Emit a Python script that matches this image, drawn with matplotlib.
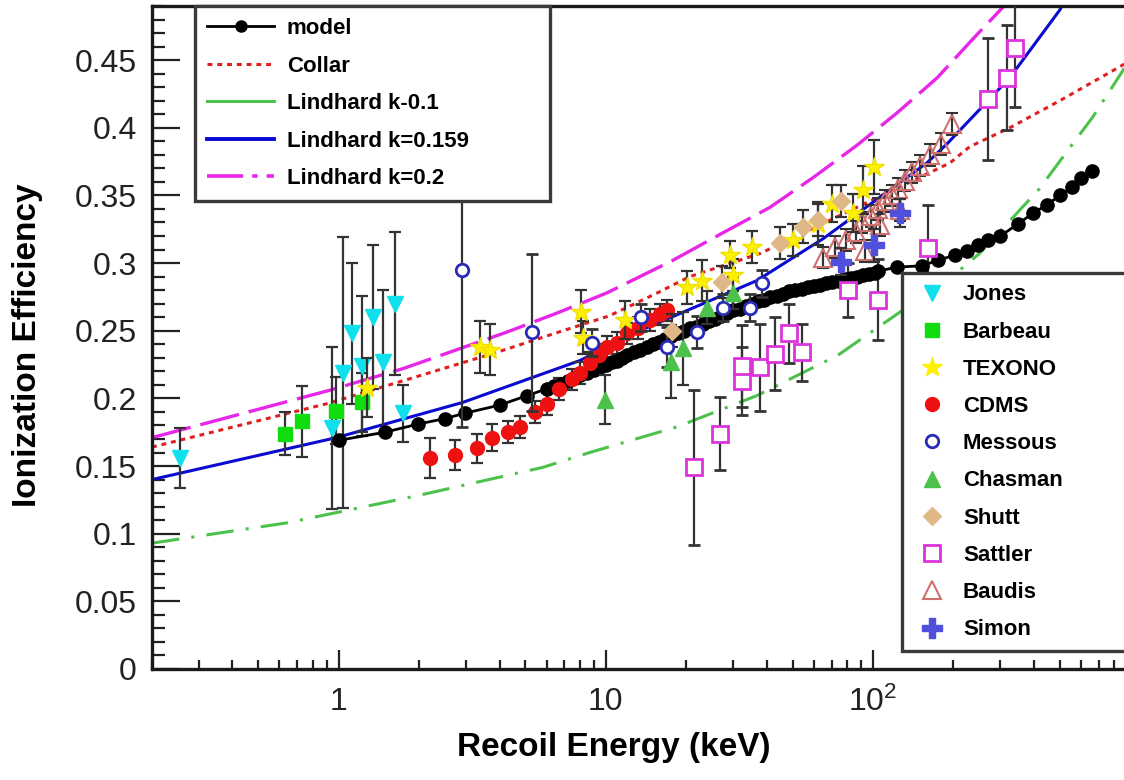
import matplotlib
matplotlib.use("Agg")
import matplotlib.pyplot as plt
from matplotlib.lines import Line2D
from matplotlib.font_manager import FontProperties
from matplotlib.ticker import FixedLocator, FixedFormatter, LogLocator, NullFormatter, MultipleLocator, FormatStrFormatter

plt.rcParams['font.family'] = ['Liberation Sans', 'DejaVu Sans']
plt.rcParams['mathtext.fontset'] = 'custom'
plt.rcParams['mathtext.rm'] = 'Liberation Sans'
plt.rcParams['mathtext.it'] = 'Liberation Sans:italic'
plt.rcParams['mathtext.bf'] = 'Liberation Sans:bold'

# ---------------- curves ----------------
collar_E = [0.2, 0.9, 1.74, 3.9, 6.9, 10.3, 15.6, 20.6, 37.7, 194, 230, 325, 500, 820, 871]
collar_y = [0.164, 0.196, 0.213, 0.234, 0.250, 0.261, 0.278, 0.290, 0.307, 0.374, 0.386, 0.400, 0.420, 0.444, 0.447]

lind01_E = [0.2, 0.64, 1.96, 5.8, 8.7, 18.5, 36.7, 74, 206, 250, 335, 420, 530, 665, 860, 871]
lind01_y = [0.093, 0.108, 0.128, 0.149, 0.160, 0.179, 0.202, 0.232, 0.293, 0.307, 0.334, 0.355, 0.382, 0.408, 0.442, 0.444]

lind0159_E = [0.2, 0.98, 2.91, 8.0, 13.4, 36.7, 65, 159, 189, 325, 500, 560]
lind0159_y = [0.140, 0.171, 0.197, 0.228, 0.250, 0.287, 0.318, 0.374, 0.388, 0.437, 0.487, 0.505]

lind02_E = [0.2, 0.925, 1.74, 2.77, 4.26, 6.55, 10.1, 17.8, 27.2, 41, 59.5, 87, 123, 174, 240, 306, 360]
lind02_y = [0.171, 0.206, 0.222, 0.236, 0.249, 0.263, 0.278, 0.302, 0.322, 0.341, 0.363, 0.387, 0.411, 0.437, 0.467, 0.489, 0.515]

model_E = [1.0, 1.49, 1.98, 2.49, 2.96, 4.0, 5.06, 6.0, 6.4, 6.8, 7.2, 7.6, 8.0, 8.5, 9.0, 9.5, 10, 10.5, 11,
           11.5, 12, 12.7, 13.4, 14.2, 15, 15.8, 16.7, 17.6, 18.6, 19.6, 20.7, 21.8, 23, 24.3, 25.6, 27,
           28.5, 30, 31.7, 33.4, 35.2, 37.1, 39.2, 41.3, 43.6, 46, 48.5, 51.2, 54, 57, 60, 63.4, 66.8,
           70.5, 74.4, 78.5, 82.8, 87.3, 92, 97, 102, 104,
           123, 152, 175, 203, 225, 248, 270, 300, 349, 398, 448, 500, 556, 603, 661]
model_y = [0.169, 0.175, 0.181, 0.185, 0.189, 0.195, 0.202, 0.207, 0.209, 0.211, 0.213, 0.215, 0.217, 0.219,
           0.221, 0.223, 0.225, 0.227, 0.228, 0.230, 0.232, 0.234, 0.236, 0.238, 0.240, 0.242, 0.244, 0.246,
           0.248, 0.250, 0.252, 0.253, 0.255, 0.257, 0.259, 0.261, 0.263, 0.265, 0.266, 0.268, 0.270, 0.272,
           0.273, 0.275, 0.276, 0.277, 0.279, 0.280, 0.281, 0.282, 0.283, 0.284, 0.285, 0.286, 0.287, 0.288,
           0.289, 0.290, 0.291, 0.292, 0.293, 0.294,
           0.297, 0.298, 0.302, 0.306, 0.309, 0.313, 0.317, 0.320, 0.329, 0.337, 0.343, 0.350, 0.356, 0.363, 0.368]

# ---------------- data sets ----------------
jones_E = [0.254, 0.94, 1.035, 1.12, 1.22, 1.34, 1.46, 1.62, 1.74]
jones_y = [0.156, 0.178, 0.219, 0.248, 0.224, 0.260, 0.227, 0.270, 0.189]
jones_err = [0.022, 0.060, 0.100, 0.052, 0.052, 0.053, 0.053, 0.053, 0.021]

barbeau_E = [0.63, 0.73, 0.98, 1.22]
barbeau_y = [0.174, 0.183, 0.191, 0.197]
barbeau_err = [0.016, 0.026, 0.025, 0.022]

texono_E = [1.28, 3.37, 3.67, 8.1, 8.2, 11.8, 20.1, 22.9, 29.1, 29.9, 35.2, 50.2, 62.5, 70.3, 84.3, 91.7, 101]
texono_y = [0.208, 0.238, 0.236, 0.264, 0.245, 0.258, 0.282, 0.287, 0.306, 0.291, 0.312, 0.317, 0.329, 0.344, 0.337, 0.354, 0.371]
texono_err = [0.022, 0.019, 0.019, 0.016, 0.012, 0.014, 0.012, 0.015, 0.010, 0.012, 0.012, 0.012, 0.016, 0.014, 0.014, 0.018, 0.020]

cdms_E = [2.19, 2.72, 3.28, 3.74, 4.29, 4.76, 5.42, 6.0, 6.7, 7.5, 8.0, 8.7, 9.4, 10.1, 11.0, 12.0, 13.2, 14.6, 16.0, 17.0]
cdms_y = [0.156, 0.158, 0.163, 0.171, 0.175, 0.179, 0.190, 0.196, 0.207, 0.214, 0.219, 0.226, 0.232, 0.238, 0.241, 0.248, 0.252, 0.258, 0.262, 0.265]
cdms_err = [0.015, 0.011, 0.011, 0.010, 0.008, 0.008, 0.008, 0.008, 0.008, 0.008, 0.008, 0.008, 0.008, 0.008, 0.008, 0.008, 0.008, 0.008, 0.008, 0.008]

messous_E = [2.9, 5.3, 8.9, 13.5, 17, 21.9, 27.4, 34.6, 38.5]
messous_y = [0.295, 0.249, 0.241, 0.260, 0.238, 0.249, 0.267, 0.267, 0.285]
messous_err = [0.116, 0.058, 0.010, 0.010, 0.015, 0.012, 0.010, 0.010, 0.010]

chasman_E = [9.9, 17.6, 19.4, 23.9, 29.9]
chasman_y = [0.199, 0.227, 0.237, 0.267, 0.278]
chasman_err = [0.018, 0.027, 0.027, 0.012, 0.012]

shutt_E = [17.7, 27.2, 44.8, 54.6, 62, 76]
shutt_y = [0.250, 0.286, 0.315, 0.327, 0.332, 0.346]
shutt_err = [0.012, 0.012, 0.012, 0.012, 0.012, 0.012]

sattler_E = [21.4, 26.7, 32.4, 32.4, 37.7, 42.9, 48.3, 54.4, 80.7, 104, 161, 270, 318, 340]
sattler_y = [0.149, 0.174, 0.213, 0.224, 0.223, 0.233, 0.248, 0.234, 0.280, 0.273, 0.311, 0.421, 0.437, 0.459]
sattler_err = [0.057, 0.027, 0.025, 0.030, 0.032, 0.027, 0.022, 0.021, 0.020, 0.030, 0.032, 0.045, 0.039, 0.044]

baudis_E = [65, 72, 79, 86, 91, 93, 98, 104, 106, 111, 118, 124, 126, 132, 140, 150, 164, 179, 197]
baudis_y = [0.304, 0.312, 0.317, 0.323, 0.330, 0.309, 0.335, 0.340, 0.328, 0.346, 0.350, 0.355, 0.339, 0.361, 0.367, 0.372, 0.380, 0.388, 0.403]
baudis_err = [0.008] * 19

simon_E = [76, 101, 126]
simon_y = [0.301, 0.313, 0.337]
simon_err = [0.010, 0.012, 0.010]

x_ticks = [1, 10, 100]
x_tick_labels = ['1', '10', r'$\mathregular{10^{2}}$']

curve_labels = ['model', 'Collar', 'Lindhard k-0.1', 'Lindhard k=0.159', 'Lindhard k=0.2']
data_labels = ['Jones', 'Barbeau', 'TEXONO', 'CDMS', 'Messous', 'Chasman', 'Shutt', 'Sattler', 'Baudis', 'Simon']

# ---------------- figure ----------------
W, H = 1124, 780
fig = plt.figure(figsize=(W / 100, H / 100), dpi=100)
L, R, B, T = 152, 1124, 669, 6
ax = fig.add_axes([L / W, 1 - B / H, (R - L) / W, (B - T) / H])
ax.set_xscale('log')
ax.set_xlim(0.2, 870)
ax.set_ylim(0, 0.49)

c_magenta = '#e826e8'
c_blue = '#0a0ad0'
c_red = '#e02020'
c_green = '#4cc24c'

ax.plot(lind01_E, lind01_y, color=c_green, lw=2.2, ls=(0, (9, 4, 1, 4)), zorder=2)
ax.plot(collar_E, collar_y, color=c_red, lw=2.2, ls=(0, (1.6, 1.6)), zorder=2)
ax.plot(lind0159_E, lind0159_y, color=c_blue, lw=2.2, zorder=2)
ax.plot(lind02_E, lind02_y, color=c_magenta, lw=2.4, ls=(0, (12, 3)), zorder=2)

ekw = dict(ecolor='#333333', elinewidth=1.6, capsize=4, capthick=1.6, linestyle='none')

ax.errorbar(sattler_E, sattler_y, yerr=sattler_err, fmt='s', ms=11, mfc='white', mec='#dd33dd', mew=2, zorder=4, **ekw)
ax.errorbar(baudis_E, baudis_y, yerr=baudis_err, fmt='^', ms=13, mfc='none', mec='#cf7070', mew=1.5, zorder=4, **ekw)
ax.errorbar(jones_E, jones_y, yerr=jones_err, fmt='v', ms=11, color='#10e0ec', zorder=4, **ekw)
ax.errorbar(barbeau_E, barbeau_y, yerr=barbeau_err, fmt='s', ms=10, color='#10dd10', zorder=4, **ekw)
ax.errorbar(cdms_E, cdms_y, yerr=cdms_err, fmt='o', ms=10, color='#ee1111', zorder=4, **ekw)
ax.plot(model_E, model_y, color='black', lw=2, marker='o', ms=9.5, zorder=4)
ax.errorbar(texono_E, texono_y, yerr=texono_err, fmt='*', ms=15, color='#fff000', mec='#f0e000', zorder=5, **ekw)
ax.errorbar(messous_E, messous_y, yerr=messous_err, fmt='o', ms=9, mfc='white', mec='#2a2ab8', mew=2, zorder=5, **ekw)
ax.errorbar(chasman_E, chasman_y, yerr=chasman_err, fmt='^', ms=11, color='#4cc24c', zorder=5, **ekw)
ax.errorbar(shutt_E, shutt_y, yerr=shutt_err, fmt='D', ms=9, color='#e0b888', zorder=5, **ekw)
ax.errorbar(simon_E, simon_y, yerr=simon_err, fmt='P', ms=14, color='#5050dd', zorder=5, **ekw)

# ---------------- axes styling ----------------
ax.xaxis.set_major_locator(FixedLocator(x_ticks))
ax.xaxis.set_major_formatter(FixedFormatter(x_tick_labels))
ax.xaxis.set_minor_locator(LogLocator(base=10, subs=[2, 3, 4, 5, 6, 7, 8, 9], numticks=20))
ax.xaxis.set_minor_formatter(NullFormatter())
ax.yaxis.set_major_locator(MultipleLocator(0.05))
ax.yaxis.set_major_formatter(FormatStrFormatter('%g'))
ax.yaxis.set_minor_locator(MultipleLocator(0.01))

ax.tick_params(axis='y', which='major', direction='in', length=20, width=1.6, pad=11, labelsize=23,
               colors='#222222', right=False)
ax.tick_params(axis='y', which='minor', direction='in', length=9.5, width=1.6, colors='#222222', right=False)
ax.tick_params(axis='x', which='major', direction='in', length=14, width=1.6, pad=13, labelsize=23,
               colors='#222222', top=False)
ax.tick_params(axis='x', which='minor', direction='in', length=6.5, width=1.6, colors='#222222', top=False)
for s in ['left', 'bottom', 'top']:
    ax.spines[s].set_linewidth(2.4)
    ax.spines[s].set_color('#1a1a1a')
ax.spines['right'].set_visible(False)

ax.set_xlabel('Recoil Energy (keV)', fontsize=24, fontweight='bold')
ax.set_ylabel('Ionization Efficiency', fontsize=24, fontweight='bold')
ax.xaxis.set_label_coords(0.475, -0.119)
ax.xaxis.label.set_va('center')
ax.yaxis.set_label_coords(-0.1286, 0.489)
ax.yaxis.label.set_va('center')

# ---------------- legends ----------------
lfont = FontProperties(family='Liberation Sans', weight='bold', size=16)
h1 = [Line2D([], [], color='black', lw=2, marker='o', ms=8),
      Line2D([], [], color=c_red, lw=2.2, ls=(0, (1.6, 1.6))),
      Line2D([], [], color=c_green, lw=2.2),
      Line2D([], [], color=c_blue, lw=2.8),
      Line2D([], [], color=c_magenta, lw=2.6, ls=(0, (10, 2.5, 1.5, 2.5)))]
leg1 = ax.legend(h1, curve_labels, loc='upper left', bbox_to_anchor=(0.0442, 0.0, 0.3653, 1.0),
                 mode='expand', borderaxespad=0, prop=lfont, handlelength=3.0, handletextpad=0.59,
                 labelspacing=0.74, borderpad=0.55, fancybox=False, edgecolor='#3a3a3a', framealpha=1)
leg1.get_frame().set_linewidth(2.4)
leg1.set_zorder(10)
ax.add_artist(leg1)

h2 = [Line2D([], [], ls='none', marker='v', ms=11, color='#10e0ec'),
      Line2D([], [], ls='none', marker='s', ms=10, color='#10dd10'),
      Line2D([], [], ls='none', marker='*', ms=15, color='#fff000'),
      Line2D([], [], ls='none', marker='o', ms=10, color='#ee1111'),
      Line2D([], [], ls='none', marker='o', ms=9, mfc='white', mec='#2a2ab8', mew=2),
      Line2D([], [], ls='none', marker='^', ms=11, color='#4cc24c'),
      Line2D([], [], ls='none', marker='D', ms=9, color='#e0b888'),
      Line2D([], [], ls='none', marker='s', ms=11, mfc='white', mec='#dd33dd', mew=2),
      Line2D([], [], ls='none', marker='^', ms=13, mfc='none', mec='#cf7070', mew=1.5),
      Line2D([], [], ls='none', marker='P', ms=14, color='#5050dd')]
leg2 = ax.legend(h2, data_labels, loc='upper left', bbox_to_anchor=(0.7716, 0.0, 0.32, 0.597),
                 mode='expand', borderaxespad=0, prop=lfont, handlelength=1.7, handletextpad=0.54,
                 labelspacing=0.73, borderpad=0.5, fancybox=False, edgecolor='#3a3a3a', framealpha=1)
leg2.get_frame().set_linewidth(2.4)
leg2.set_zorder(10)

fig.savefig('out.png', dpi=100)
